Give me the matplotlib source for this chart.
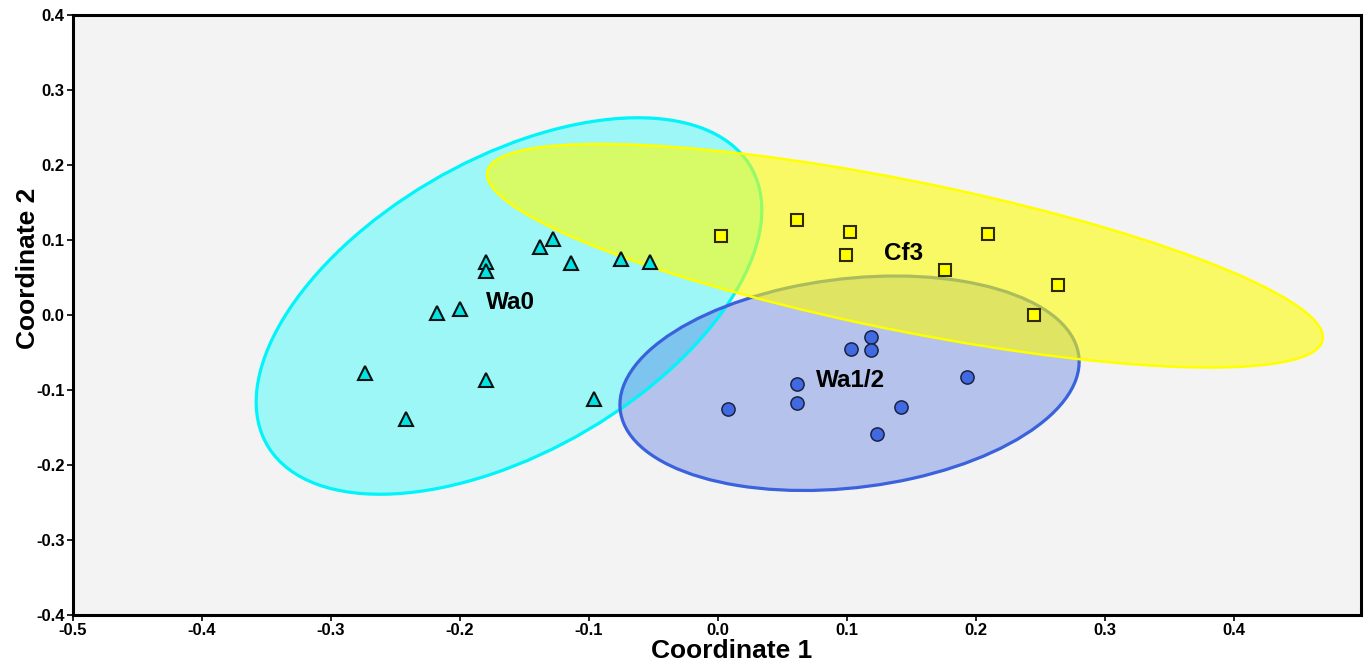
import numpy as np
import matplotlib.pyplot as plt
from matplotlib.patches import Ellipse

plt.rcParams['font.family'] = ['Liberation Sans', 'DejaVu Sans']
plt.rcParams['font.weight'] = 'bold'

# Group scores (Coordinate 1, Coordinate 2)
wa0_x = [-0.128, -0.138, -0.180, -0.180, -0.114, -0.075, -0.053, -0.218, -0.200, -0.274, -0.180, -0.242, -0.096]
wa0_y = [0.102, 0.091, 0.071, 0.059, 0.070, 0.075, 0.071, 0.002, 0.008, -0.078, -0.087, -0.139, -0.112]

cf3_x = [0.002, 0.061, 0.102, 0.099, 0.209, 0.176, 0.264, 0.245]
cf3_y = [0.106, 0.127, 0.111, 0.080, 0.108, 0.060, 0.040, 0.000]

wa12_x = [0.119, 0.103, 0.119, 0.061, 0.061, 0.008, 0.142, 0.193, 0.123]
wa12_y = [-0.029, -0.046, -0.047, -0.092, -0.117, -0.126, -0.123, -0.083, -0.159]

# 95% ellipses: centre, half extent along x / y, correlation
wa0_ell = (-0.162, 0.012, 0.196, 0.251, 0.51)
wa12_ell = (0.102, -0.091, 0.178, 0.143, 0.20)
cf3_ell = (0.145, 0.079, 0.324, 0.149, -0.73)

group_names = ['Wa0', 'Cf3', 'Wa1/2']
label_x = [-0.161, 0.144, 0.103]
label_y = [0.016, 0.082, -0.087]

xticks = [-0.5, -0.4, -0.3, -0.2, -0.1, 0.0, 0.1, 0.2, 0.3, 0.4]
yticks = [-0.4, -0.3, -0.2, -0.1, 0.0, 0.1, 0.2, 0.3, 0.4]


def make_ellipse(params, **kw):
    cx, cy, sx, sy, r = params
    cov = np.array([[sx**2, r*sx*sy], [r*sx*sy, sy**2]])
    vals, vecs = np.linalg.eigh(cov)
    angle = np.degrees(np.arctan2(vecs[1, 1], vecs[0, 1]))
    return Ellipse((cx, cy), 2*np.sqrt(vals[1]), 2*np.sqrt(vals[0]), angle=angle, **kw)


fig = plt.figure(figsize=(13.67, 6.61), dpi=100)
ax = fig.add_axes([0.0534, 0.0696, 0.9422, 0.9077])
ax.set_facecolor('#f3f3f3')

# fills first, then edges; yellow goes on top of everything
ax.add_patch(make_ellipse(wa0_ell, facecolor='cyan', alpha=0.35, edgecolor='none', zorder=1))
ax.add_patch(make_ellipse(wa12_ell, facecolor='royalblue', alpha=0.35, edgecolor='none', zorder=1.1))
ax.add_patch(make_ellipse(wa0_ell, fill=False, edgecolor='#00f4fa', lw=2.3, zorder=1.2))
ax.add_patch(make_ellipse(wa12_ell, fill=False, edgecolor='#3a62dc', lw=2.3, zorder=1.3))
ax.add_patch(make_ellipse(cf3_ell, facecolor='yellow', alpha=0.58, edgecolor='none', zorder=1.4))
ax.add_patch(make_ellipse(cf3_ell, fill=False, edgecolor='#ffff00', lw=1.8, zorder=1.5))

ax.plot(wa0_x, wa0_y, '^', ms=10, mfc='#00e4e4', mec='#111111', mew=1.5, ls='none', zorder=3)
ax.plot(cf3_x, cf3_y, 's', ms=8.6, mfc='#ffff00', mec='#2e2a00', mew=1.5, ls='none', zorder=3)
ax.plot(wa12_x, wa12_y, 'o', ms=9.5, mfc='#4169e1', mec='#1c2340', mew=1.1, ls='none', zorder=3)

for name, lx, ly in zip(group_names, label_x, label_y):
    ax.text(lx, ly, name, fontsize=17.5, fontweight='bold', ha='center', va='center', zorder=4)

ax.set_xlim(-0.5, 0.4985)
ax.set_ylim(-0.4, 0.4)
ax.set_xticks(xticks)
ax.set_yticks(yticks)
ax.set_xticklabels([f'{v:.1f}' for v in xticks])
ax.set_yticklabels([f'{v:.1f}' for v in yticks])
ax.tick_params(direction='out', length=4, width=1.2, labelsize=12, pad=2)
for lab in ax.get_xticklabels() + ax.get_yticklabels():
    lab.set_fontweight('bold')

for sp in ax.spines.values():
    sp.set_linewidth(2.2)
    sp.set_color('black')

ax.set_xlabel('Coordinate 1', fontsize=19, fontweight='bold')
ax.set_ylabel('Coordinate 2', fontsize=19, fontweight='bold')
ax.xaxis.set_label_coords(0.511, -0.04)
ax.yaxis.set_label_coords(-0.026, 0.578)

fig.savefig('out.png', dpi=100)
